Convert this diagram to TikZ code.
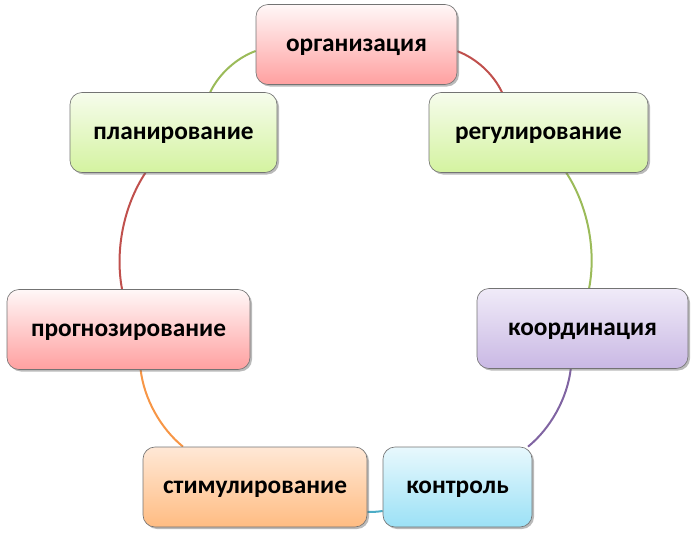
\documentclass[tikz,border=0pt]{standalone}
\usepackage{fontspec}
\setmainfont{Carlito}
\usetikzlibrary{shadows,backgrounds}
\definecolor{cred}{HTML}{C0504D}
\definecolor{cgreen}{HTML}{9BBB59}
\definecolor{cpurple}{HTML}{8064A2}
\definecolor{ccyan}{HTML}{4BACC6}
\definecolor{corange}{HTML}{F79646}
\tikzset{
  box/.style={draw=black!55, line width=0.5pt, rounded corners=9pt, minimum height=60pt,
    inner sep=0pt, text height=13pt, text depth=3pt, font=\fontsize{19}{21}\selectfont\bfseries,
    drop shadow={shadow xshift=1.5pt, shadow yshift=-1.5pt, opacity=0.45, fill=black!60}},
  redbox/.style={box, top color=red!3!white, bottom color={rgb,255:red,255;green,160;blue,160}},
  greenbox/.style={box, top color={rgb,255:red,246;green,252;blue,236}, bottom color={rgb,255:red,212;green,243;blue,160}},
  purplebox/.style={box, top color={rgb,255:red,240;green,235;blue,248}, bottom color={rgb,255:red,201;green,184;blue,228}},
  cyanbox/.style={box, top color={rgb,255:red,232;green,248;blue,253}, bottom color={rgb,255:red,155;green,225;blue,246}},
  orangebox/.style={box, top color={rgb,255:red,255;green,232;blue,214}, bottom color={rgb,255:red,255;green,188;blue,130}},
  link/.style={line width=1.5pt, bend left=22, looseness=0.85}
}
\begin{document}
\begin{tikzpicture}[x=0.75pt, y=-0.75pt]
\useasboundingbox (0,0) rectangle (697,539);
\node[redbox, minimum width=150.75pt] (org) at (356.5,44.5) {организация};
\node[greenbox, minimum width=164.25pt] (reg) at (538.5,132.5) {регулирование};
\node[purplebox, minimum width=158.25pt] (koord) at (582.5,328.5) {координация};
\node[cyanbox, minimum width=111.75pt] (kontr) at (457.5,487) {контроль};
\node[orangebox, minimum width=168pt] (stim) at (255,487) {стимулирование};
\node[redbox, minimum width=182.25pt] (progn) at (128.5,329.5) {прогнозирование};
\node[greenbox, minimum width=155.25pt] (plan) at (173.5,132.5) {планирование};
\begin{scope}[on background layer]
\draw[link, cred] (org) to (reg);
\draw[link, cgreen] (reg) to (koord);
\draw[link, cpurple] (koord) to (kontr);
\draw[line width=1.5pt, ccyan] ([yshift=-18pt]kontr.west) to[bend left=4] ([yshift=-18.75pt]stim.east);
\draw[link, corange] (stim) to (progn);
\draw[link, cred] (progn) to (plan);
\draw[link, cgreen] (plan) to (org);
\end{scope}
\end{tikzpicture}
\end{document}
